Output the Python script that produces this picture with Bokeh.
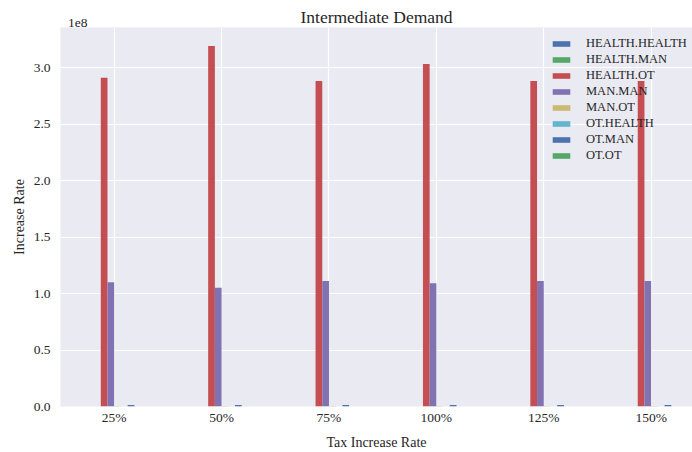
from bokeh.plotting import figure
from bokeh.models import (FixedTicker, CustomJSTickFormatter, Legend, LegendItem,
                          ColumnDataSource, LinearAxis)
from bokeh.embed import file_html
from bokeh.resources import INLINE

# Tax scenarios on the x axis
categories = ["25%", "50%", "75%", "100%", "125%", "150%"]

# Intermediate demand change per sector pair
series_names = ["HEALTH.HEALTH", "HEALTH.MAN", "HEALTH.OT", "MAN.MAN",
                "MAN.OT", "OT.HEALTH", "OT.MAN", "OT.OT"]
health_health = [0, 0, 0, 0, 0, 0]
health_man = [0, 0, 0, 0, 0, 0]
health_ot = [2.91e8, 3.19e8, 2.88e8, 3.03e8, 2.88e8, 2.88e8]
man_man = [1.10e8, 1.05e8, 1.11e8, 1.09e8, 1.11e8, 1.11e8]
man_ot = [4e5, 4e5, 4e5, 4e5, 4e5, 4e5]
ot_health = [0, 0, 0, 0, 0, 0]
ot_man = [1.3e6, 1.3e6, 1.3e6, 1.3e6, 1.3e6, 1.3e6]
ot_ot = [0, 0, 0, 0, 0, 0]

y_ticks = [0.0, 0.5e8, 1.0e8, 1.5e8, 2.0e8, 2.5e8, 3.0e8]
scale_text = "1e8"
title_text = "Intermediate Demand"

series_values = [health_health, health_man, health_ot, man_man,
                 man_ot, ot_health, ot_man, ot_ot]
colors = ["#4C72B0", "#55A868", "#C44E52", "#8172B2",
          "#CCB974", "#64B5CD", "#4C72B0", "#55A868"]

SERIF = "Liberation Serif"
TEXT_COLOR = "#262626"

p = figure(width=692, height=452, output_backend="svg", toolbar_location=None,
           x_range=(-0.5, 5.385), y_range=(0, 3.354e8))
p.min_border_left = 60
p.min_border_right = 0
p.min_border_top = 27
p.min_border_bottom = 46
p.background_fill_color = "#EAEAF2"
p.outline_line_color = None

bottom_ax = p.below[0]
left_ax = p.left[0]

# pandas-style grouped bars: total group width 0.5 split across the series
n = len(series_names)
bar_w = 0.5 / n
items = []
for i, (name, vals, col) in enumerate(zip(series_names, series_values, colors)):
    offset = -0.25 + bar_w * (i + 0.5)
    src = ColumnDataSource(dict(x=[k + offset for k in range(len(categories))],
                                top=vals))
    r = p.vbar(x="x", top="top", width=bar_w, bottom=0, source=src,
               fill_color=col, line_color=None)
    items.append(LegendItem(label=name, renderers=[r]))

# axes
bottom_ax.ticker = FixedTicker(ticks=list(range(len(categories))))
bottom_ax.major_label_overrides = {i: c for i, c in enumerate(categories)}
left_ax.ticker = FixedTicker(ticks=y_ticks)
left_ax.formatter = CustomJSTickFormatter(code="return (tick / 1e8).toFixed(1);")

# top axis carries the scale factor (as its only tick label) and the title
scale_pos = -0.34
top_ax = LinearAxis(ticker=FixedTicker(ticks=[scale_pos]),
                    major_label_overrides={scale_pos: scale_text},
                    axis_label=title_text)
p.add_layout(top_ax, "above")

for ax in (bottom_ax, left_ax, top_ax):
    ax.axis_line_color = None
    ax.major_tick_line_color = None
    ax.minor_tick_line_color = None
    ax.major_tick_out = 0
    ax.major_tick_in = 0
    ax.minor_tick_out = 0
    ax.minor_tick_in = 0
    ax.major_label_text_font = SERIF
    ax.major_label_text_font_size = "13.5px"
    ax.major_label_text_color = TEXT_COLOR
    ax.axis_label_text_font = SERIF
    ax.axis_label_text_font_size = "14px"
    ax.axis_label_text_font_style = "normal"
    ax.axis_label_text_color = TEXT_COLOR

top_ax.axis_label_text_font_size = "17.5px"
top_ax.major_label_standoff = 1
top_ax.axis_label_standoff = -11

bottom_ax.axis_label = "Tax Increase Rate"
left_ax.axis_label = "Increase Rate"
bottom_ax.major_label_standoff = 3
left_ax.major_label_standoff = 10
bottom_ax.axis_label_standoff = 7
left_ax.axis_label_standoff = 4

p.xgrid.grid_line_color = "white"
p.ygrid.grid_line_color = "white"
p.xgrid.grid_line_width = 1.2
p.ygrid.grid_line_width = 1.2

legend = Legend(items=items, location=(490, 243))
legend.background_fill_alpha = 0
legend.border_line_color = None
legend.label_text_font = SERIF
legend.label_text_font_size = "12.5px"
legend.label_text_color = TEXT_COLOR
legend.glyph_width = 22
legend.glyph_height = 7
legend.label_height = 16
legend.spacing = 0
legend.padding = 2
legend.margin = 0
legend.label_standoff = 14
p.add_layout(legend)

open("out.html", "w").write(file_html(p, INLINE))
